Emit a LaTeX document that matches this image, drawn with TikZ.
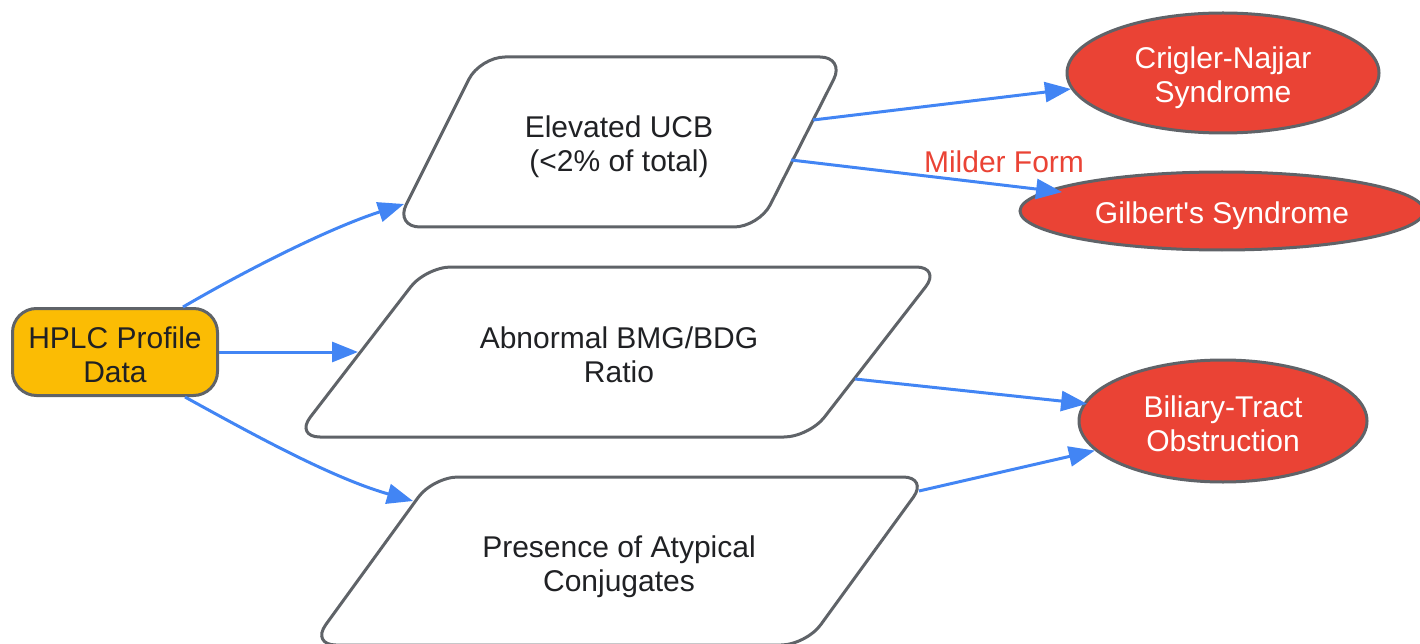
\documentclass[tikz,border=0pt]{standalone}
\usepackage{fontspec}
\setmainfont{Liberation Sans}
\newfontfamily\plainsans{Liberation Sans}
\usetikzlibrary{arrows.meta,shapes.geometric,calc}
\definecolor{bordergray}{HTML}{5F6368}
\definecolor{arrowblue}{HTML}{4285F4}
\definecolor{nodered}{HTML}{EA4335}
\definecolor{nodeyellow}{HTML}{FBBC04}
\definecolor{textdark}{HTML}{202124}
\newcommand{\myTopS}{\rule{0pt}{32pt}}
\newcommand{\myBotS}{\rule[-6pt]{0pt}{6pt}}
\tikzset{
  basefont/.style={font=\fontsize{30}{34}\selectfont, align=center},
  hplcbox/.style={basefont, draw=bordergray, line width=3pt, fill=nodeyellow, rounded corners=24pt,
    minimum width=205pt, minimum height=87pt, inner sep=0pt, text=textdark},
  pbox/.style={draw=bordergray, line width=3pt, fill=white, rounded corners=25pt},
  ptext/.style={basefont, text=textdark, inner sep=0pt},
  outcome/.style={basefont, ellipse, draw=bordergray, line width=3pt, fill=nodered, text=white, inner sep=0pt},
  arr/.style={draw=arrowblue, line width=3pt, -{Triangle[length=26pt,width=20pt]}},
  lbl/.style={basefont, text=nodered, inner sep=0pt}
}
\begin{document}
\begin{tikzpicture}[x=1pt,y=-1pt]
\useasboundingbox (0,0) rectangle (1420,644);
% parallelogram corners
\coordinate (p1tl) at (480,57);  \coordinate (p1tr) at (845,57);
\coordinate (p1br) at (759,227); \coordinate (p1bl) at (395,227);
\coordinate (p2tl) at (426,267); \coordinate (p2tr) at (941,267);
\coordinate (p2br) at (809,437); \coordinate (p2bl) at (295,437);
\coordinate (p3tl) at (433,477); \coordinate (p3tr) at (928,477);
\coordinate (p3br) at (806,645); \coordinate (p3bl) at (311,645);
\draw[pbox] ($(p1bl)!0.5!(p1tl)$) -- (p1tl) -- (p1tr) -- (p1br) -- (p1bl) -- cycle;
\draw[pbox] ($(p2bl)!0.5!(p2tl)$) -- (p2tl) -- (p2tr) -- (p2br) -- (p2bl) -- cycle;
\draw[pbox] ($(p3bl)!0.5!(p3tl)$) -- (p3tl) -- (p3tr) -- (p3br) -- (p3bl) -- cycle;
% nodes
\node[hplcbox] (hplc) at (115,352) {\myTopS HPLC Profile\\Data\myBotS};
\node[ptext] (p1) at (619,142) {\myTopS Elevated UCB\\(<2\% of total)\myBotS};
\node[ptext] (p2) at (619,352) {\myTopS Abnormal BMG/BDG\\Ratio\myBotS};
\node[ptext] (p3) at (619,562) {\myTopS Presence of Atypical\\Conjugates\myBotS};
\node[outcome, minimum width=312pt, minimum height=120pt] (cn) at (1223,73) {\myTopS Crigler-Najjar\\Syndrome\myBotS};
\node[outcome, minimum width=404pt, minimum height=78pt] (gil) at (1222,211) {\myTopS Gilbert{\plainsans'}s Syndrome\myBotS};
\node[outcome, minimum width=288pt, minimum height=122pt] (bil) at (1223,421) {\myTopS Biliary-Tract\\Obstruction\myBotS};
\node[lbl] (mf) at (1004,160) {\myTopS Milder Form\myBotS};
% connector ends on parallelogram borders
\coordinate (p1in) at (404,204);
\coordinate (p2in) at (358,352);
\coordinate (p3in) at (413,501);
\coordinate (p1out1) at (813,120);
\coordinate (p1out2) at (791,160);
\coordinate (p2out) at (855,379);
\coordinate (p3out) at (919,491);
% connectors
\draw[arr] ([xshift=68pt]hplc.north) .. controls (250,268) and (330,228) .. (p1in);
\draw[arr] (hplc.east) -- (p2in);
\draw[arr] ([xshift=70pt]hplc.south) .. controls (252,434) and (332,478) .. (p3in);
\draw[arr] (p1out1) -- (cn.186);
\draw[arr] (p1out2) -- ([xshift=20pt]gil.174);
\draw[arr] (p2out) -- ([xshift=4pt]bil.173);
\draw[arr] (p3out) -- (bil.193);
\end{tikzpicture}
\end{document}
